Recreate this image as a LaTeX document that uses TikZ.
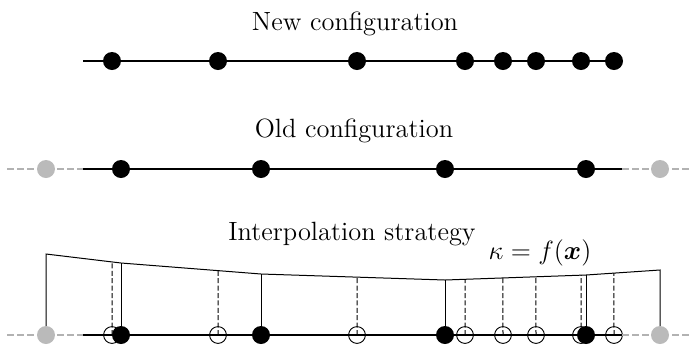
\RequirePackage{fix-cm}
\documentclass[tikz,border=0pt]{standalone}
\usepackage{bm}
\usetikzlibrary{calc}
\begin{document}
\begin{tikzpicture}[x=0.5pt,y=-0.5pt,
  txt/.style={inner sep=0pt, font=\fontsize{13.2}{16}\selectfont},
  bdot/.style={circle, fill=black, inner sep=0pt, minimum size=9pt},
  gdot/.style={circle, fill=black!27, inner sep=0pt, minimum size=9pt},
  hollow/.style={circle, draw=black, line width=0.45pt, inner sep=0pt, minimum size=8.4pt},
  mainline/.style={line width=0.65pt},
  greyline/.style={draw=black!30, line width=0.65pt, dash pattern=on 3.5pt off 1.5pt},
  vdash/.style={line width=0.5pt, dash pattern=on 2.5pt off 1.2pt},
  vsolid/.style={line width=0.5pt}]
\useasboundingbox (0,0) rectangle (692,345);

% ---------- New configuration ----------
\node[txt] (tnew) at (355,23.5) {New configuration};
\coordinate (nL) at (83,61);
\coordinate (nR) at (621,61);
\draw[mainline] (nL) -- (nR);
\foreach \i/\x in {1/112,2/218,3/357,4/465,5/503,6/536,7/581,8/614}
  \node[bdot] (n\i) at (\x,61) {};

% ---------- Old configuration ----------
\node[txt] (told) at (354,131) {Old configuration};
\coordinate (oL) at (83,169);
\coordinate (oR) at (622,169);
\coordinate (oLL) at (7,169);
\coordinate (oRR) at (692,169);
\draw[greyline] (oLL) -- (oL);
\draw[greyline] (oR) -- (oRR);
\draw[mainline] (oL) -- (oR);
\node[gdot] (og0) at (46,169) {};
\node[gdot] (og5) at (660,169) {};
\foreach \i/\x in {1/121,2/261,3/445,4/586}
  \node[bdot] (o\i) at (\x,169) {};

% ---------- Interpolation strategy ----------
\node[txt] (tint) at (352,234) {Interpolation strategy};
\node[txt] (kappa) at (540,253) {$\kappa = f(\bm{x})$};

\coordinate (bL) at (83,335);
\coordinate (bR) at (622,335);
\coordinate (bLL) at (7,335);
\coordinate (bRR) at (692,335);

% curve support points
\coordinate (t0) at (46,254);
\coordinate (t1) at (121,263);
\coordinate (t2) at (261,274);
\coordinate (t3) at (445,280);
\coordinate (t4) at (586,275);
\coordinate (t5) at (660,270);

% base points
\coordinate (bg0) at (46,335);
\coordinate (bg5) at (660,335);

% interpolated points on the curve
\coordinate (c1) at ($(t0)!0.88!(t1)$);
\coordinate (c2) at ($(t1)!0.693!(t2)$);
\coordinate (c3) at ($(t2)!0.522!(t3)$);
\coordinate (c4) at ($(t3)!0.142!(t4)$);
\coordinate (c5) at ($(t3)!0.411!(t4)$);
\coordinate (c6) at ($(t3)!0.645!(t4)$);
\coordinate (c7) at ($(t3)!0.965!(t4)$);
\coordinate (c8) at ($(t4)!0.378!(t5)$);

% hollow (new) nodes
\foreach \i/\x in {1/112,2/218,3/357,4/465,5/503,6/536,7/581,8/614}
  \node[hollow] (h\i) at (\x,335) {};

% base line
\draw[greyline] (bLL) -- (bL);
\draw[greyline] (bR) -- (bRR);
\draw[mainline] (bL) -- (bR);

% curve with end verticals
\draw[vsolid] (bg0) -- (t0) -- (t1) -- (t2) -- (t3) -- (t4) -- (t5) -- (bg5);

% dashed verticals
\foreach \i in {1,...,8}
  \draw[vdash] (h\i.center) -- (c\i);

% solid verticals for old nodes
\foreach \i/\x in {1/121,2/261,3/445,4/586}
  \coordinate (bb\i) at (\x,335);
\foreach \i in {1,...,4}
  \draw[vsolid] (bb\i) -- (t\i);

% dots
\node[gdot] (b0) at (bg0) {};
\node[gdot] (b5) at (bg5) {};
\foreach \i in {1,...,4}
  \node[bdot] (b\i) at (bb\i) {};
\end{tikzpicture}
\end{document}
